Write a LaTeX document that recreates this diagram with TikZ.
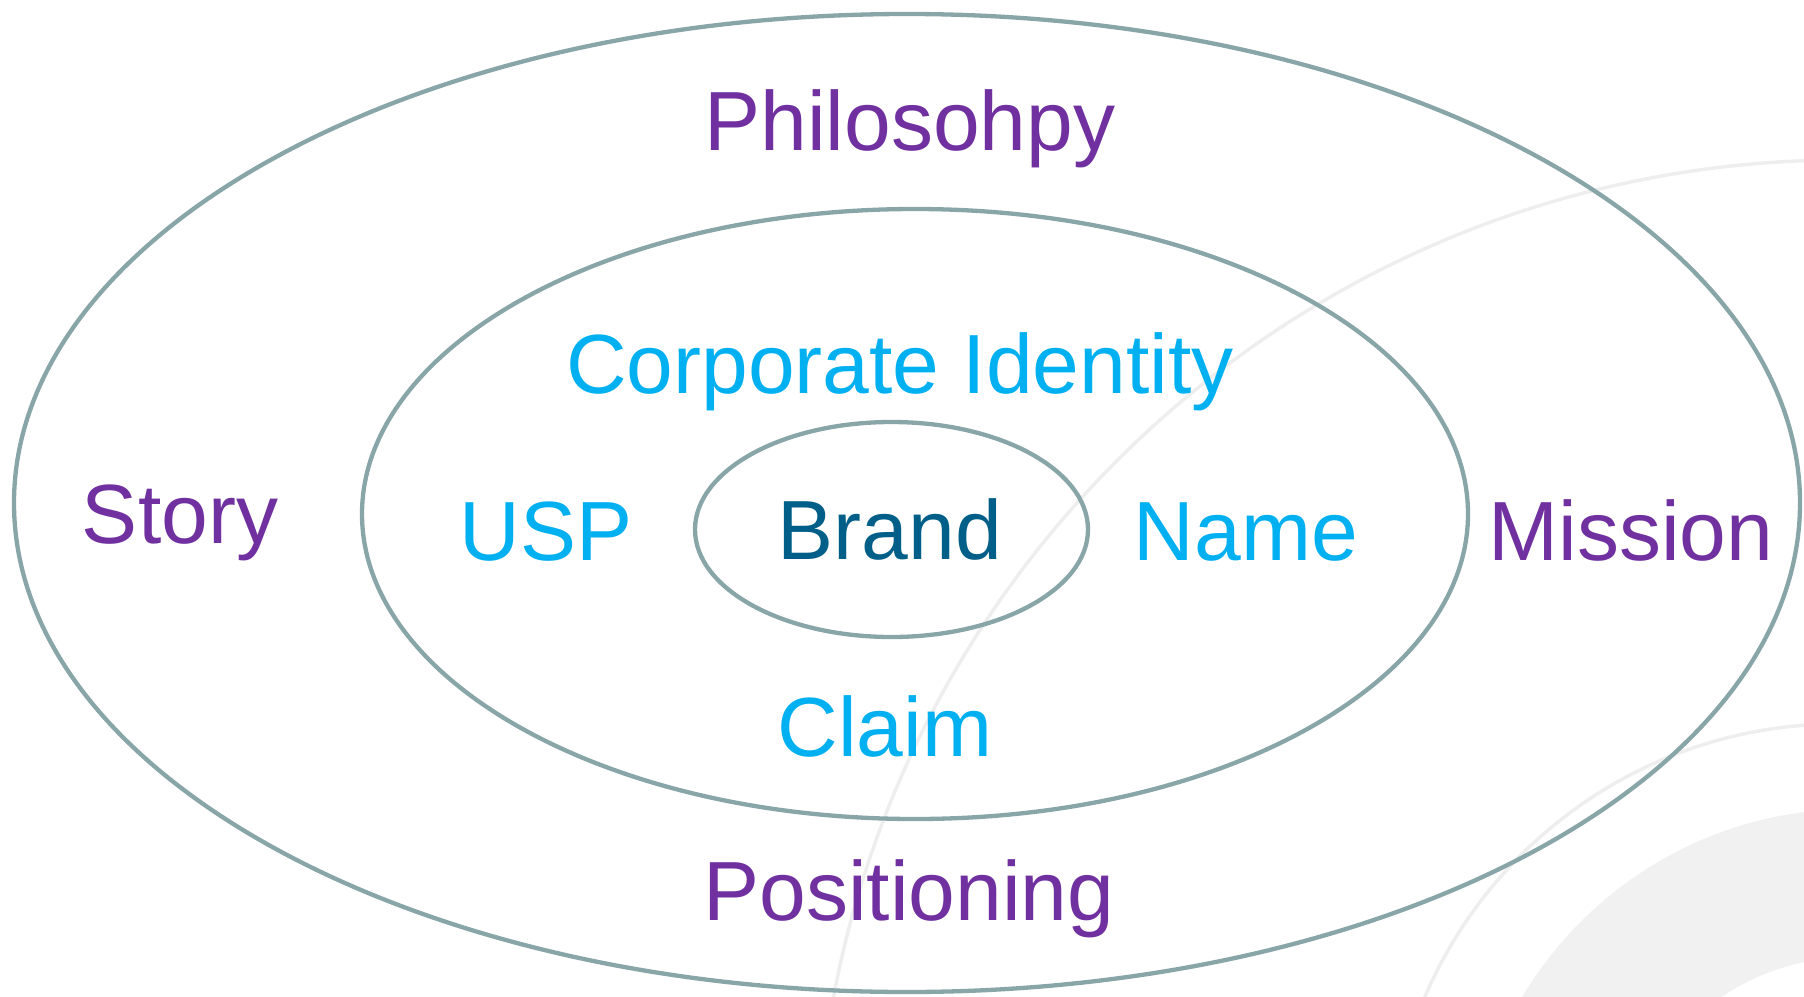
\documentclass[tikz,border=0pt]{standalone}
\usepackage{fontspec}
\setmainfont{Liberation Sans}
\definecolor{ringline}{HTML}{88A5A8}
\definecolor{faint}{HTML}{EEEEEE}
\definecolor{faintfill}{HTML}{F1F1F1}
\definecolor{outerc}{HTML}{7030A0}
\definecolor{midc}{HTML}{00B0F0}
\definecolor{corec}{HTML}{005F88}
\tikzset{
  ringstroke/.style={draw=ringline, line width=4.3pt},
  faintarc/.style={draw=faint, line width=3.4pt},
  lbl/.style={anchor=base, inner sep=0pt, font=\fontsize{84}{100}\selectfont},
  outerlbl/.style={lbl, text=outerc},
  midlbl/.style={lbl, text=midc},
  corelbl/.style={lbl, text=corec}
}
\begin{document}
\begin{tikzpicture}[x=1pt,y=-1pt]
\useasboundingbox (0,0) rectangle (1804,996);
\fill[white] (0,0) rectangle (1804,996);
\begin{scope}
\clip (0,0) rectangle (1804,996);
% faint background decoration
\fill[faintfill, even odd rule] (1853,1194) circle[radius=385] (1853,1194) circle[radius=237];
\draw[faintarc] (1843,1187) circle[radius=1027];
\draw[faintarc] (1838,1173) circle[radius=449];
\end{scope}
% concentric ellipses
\draw[ringstroke] (907,503) ellipse[x radius=893, y radius=489];
\draw[ringstroke] (915,514) ellipse[x radius=553, y radius=305];
\draw[ringstroke] (891.5,529.5) ellipse[x radius=196.5, y radius=107.5];
% labels
\node[outerlbl] (philo) at (910,150) {Philosohpy};
\node[midlbl] (ci) at (900,393) {Corporate Identity};
\node[outerlbl] (story) at (180,543) {Story};
\node[midlbl] (usp) at (546,560) {USP};
\node[corelbl] (brand) at (890,559) {Brand};
\node[midlbl] (name) at (1246,560) {Name};
\node[outerlbl] (mission) at (1631,560) {Mission};
\node[midlbl] (claim) at (885,756) {Claim};
\node[outerlbl] (pos) at (909,920) {Positioning};
\end{tikzpicture}
\end{document}
